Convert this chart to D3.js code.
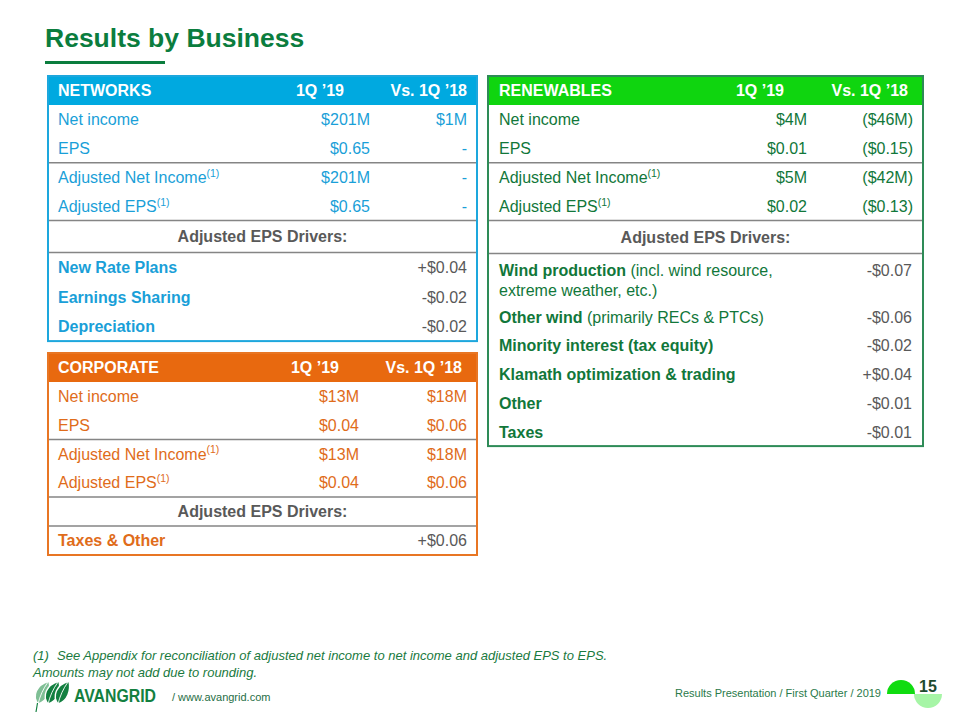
<!DOCTYPE html>
<html>
<head>
<meta charset="utf-8">
<script src="https://cdn.jsdelivr.net/npm/d3@7"></script>
<style>
  html, body { margin: 0; padding: 0; background: #fff; }
  svg { display: block; font-family: "Liberation Sans", Arial, sans-serif; }
</style>
</head>
<body>
<svg id="chart" width="960" height="720"></svg>
<script>
// ---------------- DATA ----------------
const title = "Results by Business";
const columnHeaders = ["1Q \u201919", "Vs. 1Q \u201918"];
const rowLabels = ["Net income", "EPS", "Adjusted Net Income", "Adjusted EPS"];
const rowFootnote = [false, false, true, true];
const driversTitle = "Adjusted EPS Drivers:";

const networksName = "NETWORKS";
const networks1Q19 = ["$201M", "$0.65", "$201M", "$0.65"];
const networksVs1Q18 = ["$1M", "-", "-", "-"];
const networksDrivers = ["New Rate Plans", "Earnings Sharing", "Depreciation"];
const networksDriverNotes = [[], [], []];
const networksDriverValues = ["+$0.04", "-$0.02", "-$0.02"];

const corporateName = "CORPORATE";
const corporate1Q19 = ["$13M", "$0.04", "$13M", "$0.04"];
const corporateVs1Q18 = ["$18M", "$0.06", "$18M", "$0.06"];
const corporateDrivers = ["Taxes & Other"];
const corporateDriverNotes = [[]];
const corporateDriverValues = ["+$0.06"];

const renewablesName = "RENEWABLES";
const renewables1Q19 = ["$4M", "$0.01", "$5M", "$0.02"];
const renewablesVs1Q18 = ["($46M)", "($0.15)", "($42M)", "($0.13)"];
const renewablesDrivers = ["Wind production", "Other wind", "Minority interest (tax equity)",
  "Klamath optimization & trading", "Other", "Taxes"];
const renewablesDriverNotes = [["(incl. wind resource,", "extreme weather, etc.)"],
  ["(primarily RECs & PTCs)"], [], [], [], []];
const renewablesDriverValues = ["-$0.07", "-$0.06", "-$0.02", "+$0.04", "-$0.01", "-$0.01"];

const footnoteLines = ["(1)", "See Appendix for reconciliation of adjusted net income to net income and adjusted EPS to EPS.",
  "Amounts may not add due to rounding."];
const footerLeft = "/ www.avangrid.com";
const footerRight = "Results Presentation / First Quarter / 2019";
const pageNumber = "15";
const brand = "AVANGRID";

// ---------------- DRAW ----------------
const svg = d3.select("#chart");

// Title
svg.append("text").attr("x", 45).attr("y", 47)
  .attr("font-size", 26.5).attr("font-weight", "bold").attr("fill", "#0b7d3e")
  .text(title);
svg.append("line").attr("x1", 45).attr("x2", 165).attr("y1", 62.5).attr("y2", 62.5)
  .attr("stroke", "#0b7d3e").attr("stroke-width", 3);

function drawTable(cfg) {
  const g = svg.append("g");
  const heights = [cfg.headerH].concat(cfg.values1.map(() => cfg.rowH), [cfg.driverTitleH], cfg.driverRowH);
  const tops = [];
  let acc = 0;
  heights.forEach(h => { tops.push(acc); acc += h; });
  const total = acc;
  const y = d3.scaleLinear().domain([0, total]).range([cfg.y0, cfg.y0 + total]);
  const x = d3.scaleLinear().domain([0, 1]).range([cfg.x0, cfg.x1]);

  // header
  g.append("rect").attr("x", x(0)).attr("y", y(0)).attr("width", x(1) - x(0)).attr("height", y(cfg.headerH) - y(0))
    .attr("fill", cfg.headerFill);
  const hc = y(cfg.headerH / 2);
  g.append("text").attr("x", cfg.labelX).attr("y", hc).attr("dy", "0.36em")
    .attr("font-size", 16).attr("font-weight", "bold").attr("fill", "#fff").text(cfg.name);
  g.append("text").attr("x", cfg.h1End).attr("y", hc).attr("dy", "0.36em").attr("text-anchor", "end")
    .attr("font-size", 16).attr("font-weight", "bold").attr("fill", "#fff").text(columnHeaders[0]);
  g.append("text").attr("x", cfg.h2End).attr("y", hc).attr("dy", "0.36em").attr("text-anchor", "end")
    .attr("font-size", 16).attr("font-weight", "bold").attr("fill", "#fff").text(columnHeaders[1]);

  // data rows
  rowLabels.forEach((lab, i) => {
    const cy = y(tops[i + 1] + cfg.rowH / 2);
    const t = g.append("text").attr("x", cfg.labelX).attr("y", cy).attr("dy", "0.36em")
      .attr("font-size", 16).attr("fill", cfg.textColor);
    t.append("tspan").text(lab);
    if (rowFootnote[i]) {
      t.append("tspan").attr("font-size", 10.5).attr("dy", "-0.6em").text("(1)");
    }
    g.append("text").attr("x", cfg.v1End).attr("y", cy).attr("dy", "0.36em").attr("text-anchor", "end")
      .attr("font-size", 16).attr("fill", cfg.textColor).text(cfg.values1[i]);
    g.append("text").attr("x", cfg.v2End).attr("y", cy).attr("dy", "0.36em").attr("text-anchor", "end")
      .attr("font-size", 16).attr("fill", cfg.textColor).text(cfg.values2[i]);
  });

  // drivers title
  const dtTop = tops[5];
  g.append("text").attr("x", (x(0) + x(1)) / 2).attr("y", y(dtTop + cfg.driverTitleH / 2)).attr("dy", "0.36em")
    .attr("text-anchor", "middle").attr("font-size", 16).attr("font-weight", "bold").attr("fill", "#595959")
    .text(driversTitle);

  // driver rows
  cfg.drivers.forEach((d, i) => {
    const top = tops[6 + i];
    const h = cfg.driverRowH[i];
    const notes = cfg.driverNotes[i];
    const cy = notes.length > 1 ? y(top + 17) : y(top + h / 2);
    const t = g.append("text").attr("x", cfg.labelX).attr("y", cy).attr("dy", "0.36em")
      .attr("font-size", 16).attr("fill", cfg.textColor);
    t.append("tspan").attr("font-weight", "bold").text(d);
    if (notes.length > 0) t.append("tspan").text(" " + notes[0]);
    if (notes.length > 1) {
      g.append("text").attr("x", cfg.labelX).attr("y", cy + 19.5).attr("dy", "0.36em")
        .attr("font-size", 16).attr("fill", cfg.textColor).text(notes[1]);
    }
    g.append("text").attr("x", cfg.dEnd).attr("y", cy).attr("dy", "0.36em").attr("text-anchor", "end")
      .attr("font-size", 16).attr("fill", "#595959").text(cfg.driverValues[i]);
  });

  // separators
  [tops[3], tops[5], tops[6]].forEach(t0 => {
    g.append("line").attr("x1", x(0)).attr("x2", x(1)).attr("y1", y(t0)).attr("y2", y(t0))
      .attr("stroke", "#858585").attr("stroke-width", 1.5);
  });
  // outer border
  g.append("rect").attr("x", x(0)).attr("y", y(0)).attr("width", x(1) - x(0)).attr("height", y(total) - y(0))
    .attr("fill", "none").attr("stroke", cfg.borderColor).attr("stroke-width", 2);
}

drawTable({
  name: networksName, x0: 48, x1: 477, y0: 76,
  headerH: 29, rowH: 28.9, driverTitleH: 32, driverRowH: [29.5, 29.5, 29.5],
  headerFill: "#00a9e0", borderColor: "#1da7dd", textColor: "#1a9fd8",
  labelX: 58, h1End: 344, h2End: 467, v1End: 370, v2End: 467, dEnd: 467,
  values1: networks1Q19, values2: networksVs1Q18,
  drivers: networksDrivers, driverNotes: networksDriverNotes, driverValues: networksDriverValues
});

drawTable({
  name: corporateName, x0: 48, x1: 477, y0: 353,
  headerH: 29, rowH: 28.75, driverTitleH: 29, driverRowH: [29],
  headerFill: "#e8690f", borderColor: "#e87624", textColor: "#e06c1a",
  labelX: 58, h1End: 339, h2End: 462, v1End: 359, v2End: 467, dEnd: 467,
  values1: corporate1Q19, values2: corporateVs1Q18,
  drivers: corporateDrivers, driverNotes: corporateDriverNotes, driverValues: corporateDriverValues
});

drawTable({
  name: renewablesName, x0: 488, x1: 923, y0: 76,
  headerH: 29, rowH: 28.9, driverTitleH: 33, driverRowH: [49, 28.7, 28.7, 28.7, 28.7, 28.7],
  headerFill: "#0fd50f", borderColor: "#2e8b57", textColor: "#11773a",
  labelX: 499, h1End: 784, h2End: 908, v1End: 807, v2End: 913, dEnd: 912,
  values1: renewables1Q19, values2: renewablesVs1Q18,
  drivers: renewablesDrivers, driverNotes: renewablesDriverNotes, driverValues: renewablesDriverValues
});

// Footnote
const fn = svg.append("g").attr("fill", "#1a7a40").attr("font-style", "italic").attr("font-size", 13);
fn.append("text").attr("x", 33).attr("y", 660).text(footnoteLines[0]);
fn.append("text").attr("x", 57).attr("y", 660).text(footnoteLines[1]);
fn.append("text").attr("x", 33).attr("y", 677).text(footnoteLines[2]);

// Logo leaves
const logo = svg.append("g");
const leafPath = "M1,23 C-5,15 -1,4 12,0 C14,9 11,20 1,23 Z";
[[37, 681], [47, 681], [57, 681]].forEach((p, i) => {
  logo.append("path").attr("d", leafPath).attr("transform", `translate(${p[0]},${p[1]})`)
    .attr("fill", i === 0 ? "#7fbf95" : "#138040").attr("stroke", "#fff").attr("stroke-width", 1.4);
  logo.append("path").attr("d", "M1,23 C3,15 6,8 11,1").attr("fill", "none")
    .attr("stroke", "#fff")
    .attr("stroke-width", 0.9).attr("transform", `translate(${p[0]},${p[1]})`);
});
logo.append("line").attr("x1", 37.5).attr("x2", 36).attr("y1", 703).attr("y2", 712)
  .attr("stroke", "#138040").attr("stroke-width", 1.2);
logo.append("text").attr("x", 74).attr("y", 702).attr("font-size", 19).attr("font-weight", "bold")
  .attr("fill", "#138040")
  .attr("textLength", 82).attr("lengthAdjust", "spacingAndGlyphs").text(brand);

svg.append("text").attr("x", 172).attr("y", 701).attr("font-size", 11).attr("fill", "#1f6e45").text(footerLeft);
svg.append("text").attr("x", 881).attr("y", 697).attr("text-anchor", "end").attr("font-size", 11)
  .attr("fill", "#2a7a4a").text(footerRight);

// page badge
const arc = d3.arc();
svg.append("path").attr("transform", "translate(901,694)")
  .attr("d", arc({innerRadius: 0, outerRadius: 14, startAngle: -Math.PI / 2, endAngle: Math.PI / 2}))
  .attr("fill", "#10dc10");
svg.append("path").attr("transform", "translate(928,694)")
  .attr("d", arc({innerRadius: 0, outerRadius: 14, startAngle: Math.PI / 2, endAngle: 3 * Math.PI / 2}))
  .attr("fill", "#a6f5a6");
svg.append("text").attr("x", 928).attr("y", 692).attr("text-anchor", "middle").attr("font-size", 16)
  .attr("font-weight", "bold").attr("fill", "#1d4a2e").text(pageNumber);
</script>
</body>
</html>
